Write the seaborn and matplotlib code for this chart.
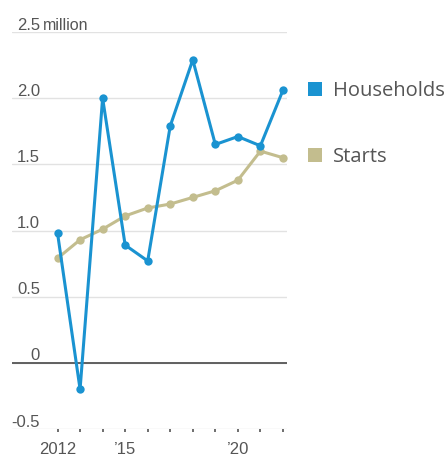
import matplotlib
matplotlib.use("Agg")
import matplotlib.pyplot as plt
import seaborn as sns
import pandas as pd
from matplotlib.patches import Rectangle

years = list(range(2012, 2023))
households = [0.98, -0.20, 2.00, 0.89, 0.77, 1.79, 2.29, 1.65, 1.71, 1.64, 2.06]
starts = [0.79, 0.93, 1.01, 1.11, 1.17, 1.20, 1.25, 1.30, 1.38, 1.60, 1.55]
series_names = ["Households", "Starts"]
y_ticks = [-0.5, 0, 0.5, 1.0, 1.5, 2.0, 2.5]
y_tick_labels = ["-0.5", "0", "0.5", "1.0", "1.5", "2.0", "2.5"]
x_tick_labels = {2012: "2012", 2015: "\u201915", 2020: "\u201920"}

BLUE = "#1a93d1"
KHAKI = "#c3bd8e"

sns.set_theme(style="white")
plt.rcParams["font.family"] = ["Liberation Sans", "DejaVu Sans"]

df = pd.DataFrame({
    "year": years * 2,
    "value": households + starts,
    "series": [series_names[0]] * len(years) + [series_names[1]] * len(years),
})

W, H = 448, 460
fig = plt.figure(figsize=(W / 100, H / 100), dpi=100)
ax = fig.add_axes([12 / W, 1 - 430 / H, 275 / W, (430 - 33) / H])

sns.lineplot(data=df, x="year", y="value", hue="series",
             hue_order=["Starts", "Households"],
             palette={"Households": BLUE, "Starts": KHAKI},
             marker="o", markersize=6, markeredgewidth=0,
             linewidth=2.2, legend=False, ax=ax, zorder=3)

ax.set_xlim(2009.98, 2022.18)
ax.set_ylim(-0.5, 2.5)
ax.set_xlabel("")
ax.set_ylabel("")
for s in ax.spines.values():
    s.set_visible(False)

ax.set_yticks(y_ticks)
ax.set_yticklabels([])
ax.tick_params(axis="y", length=0)
ax.yaxis.grid(True, color="#e2e2e2", linewidth=1)
ax.xaxis.grid(False)
ax.axhline(0, color="#555555", linewidth=1.3, zorder=2)

# y labels above gridlines
for v, lab in zip(y_ticks, y_tick_labels):
    ax.annotate(lab, xy=((40 - 12) / 275, v), xycoords=ax.get_yaxis_transform(),
                xytext=(0, 2.4), textcoords="offset points",
                ha="right", va="baseline", fontsize=12, color="#555555")
ax.annotate("million", xy=((43 - 12) / 275, 2.5), xycoords=ax.get_yaxis_transform(),
            xytext=(0, 2.4), textcoords="offset points",
            ha="left", va="baseline", fontsize=11.5, color="#555555")

# x ticks
ax.set_xticks(years)
ax.set_xticklabels([x_tick_labels.get(y, "") for y in years])
ax.set_xticks([2015, 2020], minor=True)
ax.tick_params(axis="x", which="major", bottom=True, length=2.5, width=1.2,
               color="#555555", labelsize=12, labelcolor="#555555", pad=6)
ax.tick_params(axis="x", which="minor", bottom=True, length=6, width=1.2,
               color="#555555")

# legend
leg = [("Households", BLUE, 97, 95.5), ("Starts", KHAKI, 163, 162)]
for name, col, sq_bottom, base in leg:
    fig.patches.append(Rectangle((308 / W, 1 - sq_bottom / H), 14 / W, 14 / H,
                                 transform=fig.transFigure, facecolor=col,
                                 edgecolor="none"))
    fig.text(333 / W, 1 - base / H, name, fontsize=14.5, color="#555555",
             ha="left", va="baseline", family=["Open Sans", "DejaVu Sans"])

fig.savefig("out.png", dpi=100)
